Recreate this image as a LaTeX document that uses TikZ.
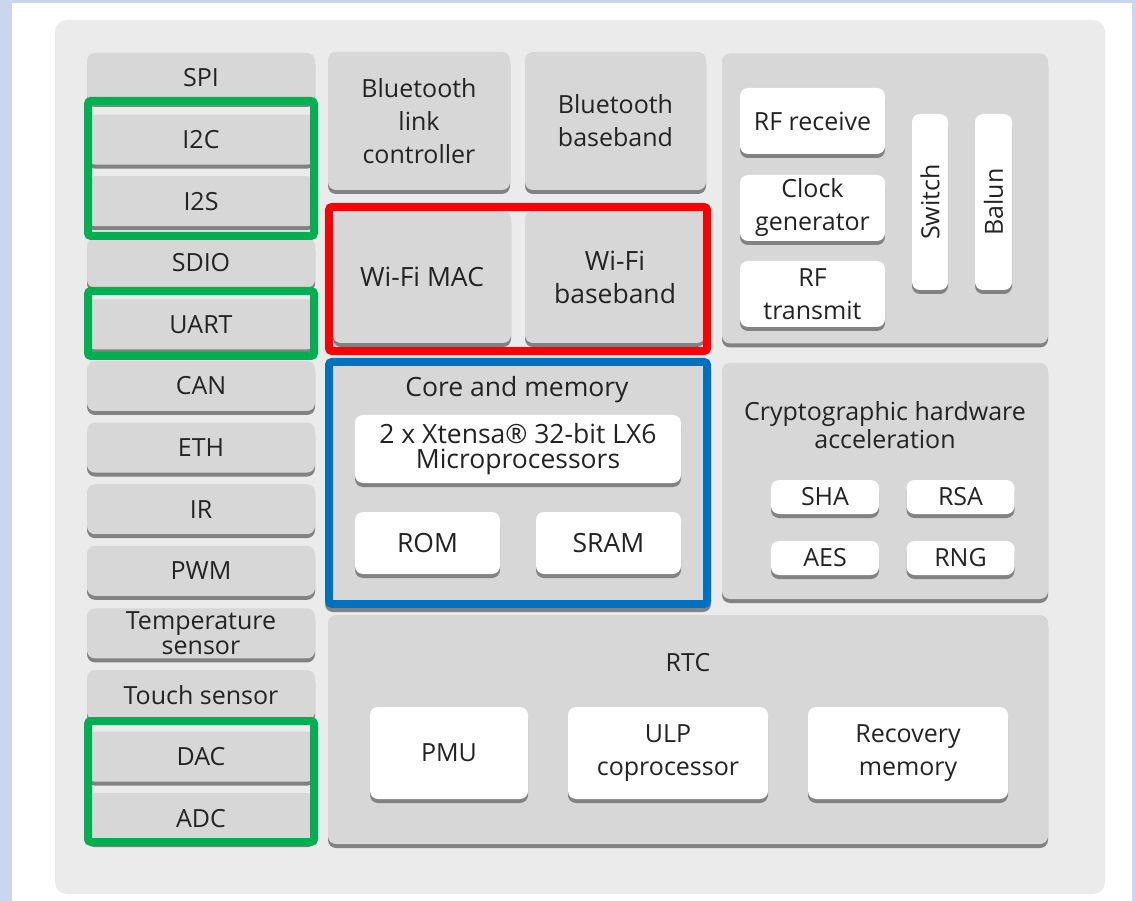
\documentclass[tikz,border=0pt]{standalone}
\usepackage{fontspec}
\setmainfont{Open Sans}
\usepackage{tikz}
\usetikzlibrary{shapes,positioning,shadows}
\definecolor{bglavender}{RGB}{201,214,238}
\definecolor{panelgray}{RGB}{235,235,235}
\definecolor{blockgray}{RGB}{215,215,215}
\definecolor{shadowgray}{RGB}{130,130,130}
\definecolor{textgray}{RGB}{35,35,35}
\definecolor{markgreen}{RGB}{0,176,80}
\definecolor{markred}{RGB}{255,0,0}
\definecolor{markblue}{RGB}{0,112,192}
\tikzset{
    % Block styles
    block/.style={
        rectangle, fill=blockgray, rounded corners=8pt,
        text=textgray, align=center, inner sep=0pt,
        font=\fontsize{25}{33}\selectfont,
        drop shadow={shadow xshift=0pt, shadow yshift=-4pt, fill=shadowgray, opacity=1}
    },
    ioblock/.style={
        block, minimum width=228pt, minimum height=50pt
    },
    subblock/.style={
        block, fill=white
    },
    bigtext/.style={
        font=\fontsize{26.5}{33}\selectfont
    },
    tightlines/.style={
        font=\fontsize{25}{25}\selectfont
    },
    % Highlight frames
    hiframe/.style={
        line width=8pt, rounded corners=3pt
    }
}

\begin{document}
\begin{tikzpicture}[x=1pt,y=-1pt]
\useasboundingbox (0,0) rectangle (1136,901);

% Background
\fill[bglavender] (0,0) rectangle (1136,901);
\fill[white] (12,3) rectangle (1132,901);
\fill[panelgray, rounded corners=12pt] (55,20) rectangle (1105,894);

% Peripheral column
\node[ioblock] (spi) at (201,78) {SPI};
\node[ioblock] (i2c) at (201,139.6) {I2C};
\node[ioblock] (i2s) at (201,201.2) {I2S};
\node[ioblock] (sdio) at (201,262.8) {SDIO};
\node[ioblock] (uart) at (201,324.4) {UART};
\node[ioblock] (can) at (201,386) {CAN};
\node[ioblock] (eth) at (201,447.6) {ETH};
\node[ioblock] (ir) at (201,509.2) {IR};
\node[ioblock] (pwm) at (201,570.8) {PWM};
\node[ioblock, tightlines] (temp) at (201,633.4) {Temperature\\sensor};
\node[ioblock] (touch) at (201,695) {Touch sensor};
\node[ioblock] (dac) at (201,756.6) {DAC};
\node[ioblock] (adc) at (201,818.2) {ADC};

% Bluetooth and Wi-Fi
\node[block, minimum width=182pt, minimum height=138pt] (btlink) at (419,121) {Bluetooth\\link\\controller};
\node[block, minimum width=181pt, minimum height=138pt] (btbase) at (615.5,121) {Bluetooth\\baseband};
\node[block, bigtext, minimum width=178pt, minimum height=132pt] (wifimac) at (422,277) {Wi-Fi MAC};
\node[block, bigtext, minimum width=180pt, minimum height=132pt] (wifibase) at (615,277) {Wi-Fi\\baseband};

% Core and memory
\node[block, minimum width=386pt, minimum height=250pt] (core) at (518,483) {};
\node[bigtext, text=textgray] (coretitle) at (517,390) {Core and memory};
\node[subblock, font=\fontsize{26.5}{25}\selectfont, minimum width=326pt, minimum height=68pt] (cpu) at (518,449) {2 x Xtensa® 32-bit LX6\\Microprocessors};
\node[subblock, bigtext, minimum width=145pt, minimum height=62pt] (rom) at (427.5,543) {ROM};
\node[subblock, bigtext, minimum width=145pt, minimum height=62pt] (sram) at (608.5,543) {SRAM};

% Radio
\node[block, minimum width=326pt, minimum height=290pt] (radio) at (885,198.5) {};
\node[subblock, minimum width=145pt, minimum height=66pt] (rfrx) at (812.5,121) {RF receive};
\node[subblock, minimum width=145pt, minimum height=66pt] (clkgen) at (812.5,208) {Clock\\generator};
\node[subblock, minimum width=145pt, minimum height=66pt] (rftx) at (812.5,294) {RF\\transmit};
\node[subblock, minimum width=36pt, minimum height=176pt] (switch) at (930,202) {\rotatebox{90}{Switch}};
\node[subblock, minimum width=37pt, minimum height=176pt] (balun) at (993.5,202) {\rotatebox{90}{Balun}};

% Cryptographic hardware acceleration
\node[block, minimum width=326pt, minimum height=236pt] (crypto) at (885,481) {};
\node[font=\fontsize{25}{28}\selectfont, text=textgray, align=center] (cryptotitle) at (885,425) {Cryptographic hardware\\acceleration};
\node[subblock, minimum width=108pt, minimum height=34pt] (sha) at (825,497) {SHA};
\node[subblock, minimum width=108pt, minimum height=34pt] (rsa) at (960.5,497) {RSA};
\node[subblock, minimum width=108pt, minimum height=34pt] (aes) at (825,558) {AES};
\node[subblock, minimum width=108pt, minimum height=34pt] (rng) at (960.5,558) {RNG};

% RTC
\node[block, minimum width=720pt, minimum height=229pt] (rtc) at (688,729.5) {};
\node[font=\fontsize{25}{25}\selectfont, text=textgray] (rtctitle) at (688,663) {RTC};
\node[subblock, minimum width=158pt, minimum height=92pt] (pmu) at (449,753) {PMU};
\node[subblock, minimum width=200pt, minimum height=92pt] (ulp) at (668,753) {ULP\\coprocessor};
\node[subblock, minimum width=200pt, minimum height=92pt] (recmem) at (908,753) {Recovery\\memory};

% Highlight frames
\draw[hiframe, markgreen] (88,101) rectangle (314,236);
\draw[hiframe, markgreen] (88,291) rectangle (314,356);
\draw[hiframe, markgreen] (88,721) rectangle (314,842);
\draw[hiframe, markred] (329,207) rectangle (707,351);
\draw[hiframe, markblue] (329,362) rectangle (707,604);

\end{tikzpicture}
\end{document}
